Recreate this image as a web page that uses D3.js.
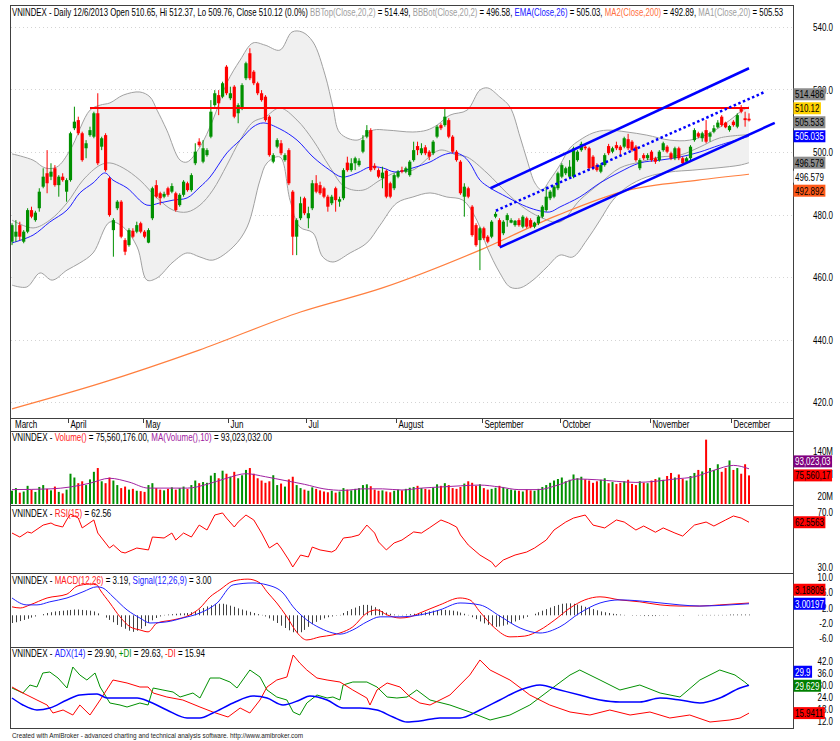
<!DOCTYPE html>
<html>
<head>
<meta charset="utf-8">
<script src="https://cdn.jsdelivr.net/npm/d3@7"></script>
<style>
body{margin:0;background:#fff}
svg{display:block}
text{font-family:"Liberation Sans",Arial,sans-serif;white-space:pre}
</style>
</head>
<body>
<svg></svg>
<script>
var w = 840
var h = 741

// daily bars, 11 Mar 2013 - 6 Dec 2013
var openP = [471.3,472.9,476.6,471.3,474.5,481.4,478.2,482.0,488.9,493.2,
492.1,494.8,489.4,492.1,487.3,491.0,507.6,510.2,506.0,501.2,
505.4,504.9,512.4,501.7,505.4,491.6,475.0,482.0,484.1,471.8,
470.2,474.8,474.5,477.2,474.5,471.0,478.8,489.4,486.8,485.7,
488.4,487.3,486.8,483.0,486.3,490.0,487.8,496.4,503.3,496.9,
499.0,504.9,515.0,518.2,517.7,527.3,517.2,520.9,512.4,514.0,
523.6,531.6,525.7,522.0,518.8,517.7,511.3,496.9,501.7,502.8,
497.4,500.6,487.3,472.9,478.8,485.2,478.8,482.0,490.0,489.4,
488.4,485.7,483.6,488.4,484.1,485.2,496.6,494.2,496.4,495.8,
500.1,504.9,507.0,495.6,494.2,491.6,494.0,490.0,488.4,492.1,
494.2,493.7,492.6,497.4,501.9,499.6,501.5,500.1,499.6,504.9,
508.6,508.6,510.2,504.9,500.1,496.9,485.7,488.4,482.5,476.6,
471.8,475.6,472.9,472.9,479.3,478.2,474.0,478.2,477.4,476.6,
478.2,476.1,478.8,478.2,476.1,477.2,479.3,481.4,485.2,485.7,
488.4,492.1,493.2,492.1,492.1,497.4,500.6,501.7,501.2,498.5,
495.8,493.7,495.8,501.9,500.1,502.2,501.7,501.7,504.1,503.3,
501.7,494.8,499.0,498.0,500.1,498.0,497.4,500.6,501.7,499.6,
498.0,501.2,498.0,496.9,498.0,503.8,506.0,504.4,507.0,504.9,
506.5,507.9,511.3,509.4,507.0,509.7,508.1,514.0,510.8,510.65]
var highP = [477.2,478.2,477.7,475.0,482.0,482.5,481.2,488.4,494.8,500.6,
496.4,495.8,492.6,493.2,491.6,506.5,514.5,511.3,506.5,503.8,
508.1,512.9,518.8,504.9,506.0,492.1,478.8,484.6,484.6,472.4,
475.6,475.6,477.7,477.7,475.0,475.6,488.9,491.0,487.3,487.3,
488.9,490.0,487.3,486.8,491.0,490.5,493.2,502.8,504.4,503.8,
501.2,516.6,519.8,519.8,522.5,527.8,520.9,521.4,515.6,522.0,
528.9,533.2,526.2,522.5,519.8,518.2,511.8,499.6,504.4,503.8,
499.6,501.2,487.8,478.8,485.7,485.7,482.5,491.0,492.6,490.5,
488.9,486.3,486.3,488.9,485.7,494.8,498.5,498.0,498.5,498.0,
505.4,508.6,507.6,496.4,494.8,495.3,494.4,490.5,493.2,494.2,
495.3,495.3,497.4,503.3,503.3,502.8,502.2,500.6,503.8,508.6,
509.2,514.0,510.8,505.4,500.6,497.4,490.0,488.9,483.0,477.2,
476.1,476.1,473.4,478.2,480.9,478.8,478.2,480.4,478.8,478.2,
478.8,479.8,479.3,478.8,477.7,479.8,483.0,488.9,487.8,489.4,
493.7,496.4,495.3,497.4,501.7,500.6,503.3,502.2,501.7,499.0,
496.4,496.4,499.6,502.6,501.7,503.3,502.2,504.9,505.8,503.8,
502.2,498.0,499.6,499.6,500.6,498.5,500.6,503.3,502.2,500.1,
501.7,501.7,498.5,498.5,502.2,507.6,506.5,506.5,510.2,506.5,
508.6,510.2,511.8,509.7,508.6,510.2,512.4,515.0,512.9,512.37]
var lowP = [470.2,471.3,471.8,470.8,474.0,478.8,477.7,480.9,488.4,486.8,
491.0,488.9,485.7,490.5,484.1,490.5,507.0,505.4,496.9,498.0,
504.9,504.4,495.8,500.6,493.7,479.3,466.5,481.4,472.4,467.0,
469.7,472.4,474.0,474.0,472.4,470.8,478.2,485.2,483.0,485.2,
485.7,486.8,480.9,482.5,485.7,487.3,487.3,495.8,501.7,496.4,
498.5,504.4,514.5,511.8,517.2,518.2,516.6,510.8,509.2,513.4,
523.0,523.0,521.4,518.2,516.1,509.7,498.5,496.4,501.2,499.0,
496.9,489.4,467.0,467.0,478.2,479.8,475.6,481.4,486.8,486.3,
485.2,480.9,483.0,480.9,482.5,484.6,493.7,493.7,494.2,495.3,
499.6,504.4,493.7,494.2,491.6,488.4,485.2,485.2,487.8,491.6,
493.2,493.2,492.1,496.9,499.0,499.0,499.0,497.4,499.0,504.4,
507.0,508.1,504.4,499.6,496.9,486.3,479.3,485.2,472.9,469.7,
462.2,471.8,470.8,472.4,478.8,469.7,473.4,476.1,477.2,476.1,
476.1,475.6,475.6,475.6,475.6,476.6,478.8,480.9,484.6,485.2,
487.8,491.6,492.6,491.6,491.6,496.9,500.1,500.6,494.2,494.2,
493.7,493.2,495.3,499.0,499.6,500.6,499.0,501.2,500.6,500.1,
496.9,494.2,497.4,497.4,496.9,496.2,496.9,500.1,499.6,497.4,
497.4,497.4,495.8,496.4,497.4,503.3,504.4,503.3,502.8,503.3,
506.0,507.6,508.1,507.6,506.5,508.1,507.6,512.4,508.1,509.76]
var closeP = [476.6,474.5,472.9,474.5,481.4,479.3,480.6,487.3,492.1,490.0,
493.7,489.4,492.1,491.0,491.0,506.0,509.7,506.0,497.4,502.8,
507.0,512.4,496.4,504.4,494.2,479.8,478.2,484.1,472.9,468.1,
475.0,472.9,476.6,474.5,472.9,475.0,488.4,485.7,485.2,486.6,
486.3,489.1,481.4,486.3,490.5,487.8,492.6,500.1,502.2,501.2,
500.6,512.9,518.8,515.6,522.0,518.8,518.8,511.3,515.0,521.4,
528.4,523.6,522.0,518.8,516.6,510.2,499.0,499.0,503.8,499.6,
499.0,490.0,472.9,478.2,483.6,480.4,480.4,490.0,487.3,486.8,
485.7,482.5,485.7,484.6,484.9,494.2,494.2,496.4,498.0,497.2,
503.8,507.0,494.2,494.8,492.1,493.4,485.7,485.7,492.6,493.7,
493.7,494.8,496.9,500.6,500.6,501.2,499.6,498.5,503.3,508.1,
507.6,511.3,504.9,500.1,497.4,486.8,488.9,485.7,473.4,470.2,
475.6,472.4,471.3,477.7,480.2,469.9,477.7,479.8,478.2,478.0,
476.6,479.3,476.1,476.1,477.4,479.3,482.5,485.7,487.3,488.9,
493.2,495.8,494.8,495.3,501.2,500.1,502.6,501.2,494.8,494.8,
494.2,495.8,499.0,499.6,501.2,501.2,500.6,504.4,501.2,500.6,
497.4,497.4,498.0,499.0,497.4,496.9,500.1,502.8,500.1,498.0,
501.2,498.0,496.4,498.0,501.7,507.0,504.9,506.0,503.3,506.0,
507.6,509.4,508.6,507.9,508.3,508.6,511.8,512.9,510.2,510.12]
// volume in millions
var volM = [35,42,30,33,48,38,32,45,50,40,
36,46,32,28,38,80,70,55,60,50,
65,85,95,60,55,70,62,50,42,46,
38,40,35,34,32,50,55,42,38,36,
40,44,38,42,46,40,50,62,55,58,
56,75,82,68,88,80,72,85,68,76,
90,95,80,68,62,56,60,76,50,54,
46,65,72,50,42,38,35,44,40,36,
33,31,35,30,33,42,38,36,40,42,
50,52,47,38,35,36,33,31,35,38,
36,40,43,45,48,42,40,38,43,52,
48,55,50,42,40,45,54,60,56,48,
52,42,38,40,43,48,45,40,38,36,
35,33,38,36,35,40,45,50,56,62,
66,70,60,64,78,68,72,65,62,56,
60,64,68,55,58,53,56,60,64,53,
50,60,56,55,62,66,70,64,74,82,
70,78,66,62,74,82,90,86,170,95,
90,105,85,95,115,90,95,80,105,75.56]
var volMaIdx = [0,10,15,20,25,30,35,40,45,50,55,60,65,70,75,80,85,90,95,100,105,110,115,120,125,130,135,140,145,150,155,160,165,170,175,180,185,189]
var volMaVal = [38,40,45,55,68,58,42,42,42,52,68,80,72,62,52,40,36,40,40,37,42,45,48,50,45,38,38,50,66,64,60,57,60,66,72,89,102,93.02]

// overlays (bar index, value)
var bbTopIdx = [0,5.4,8.5,11.5,14.9,20,22.6,25.1,28.5,32.8,35.4,37.2,39.7,43.1,44.9,48.2,51.5,55.1,58.5,61.8,64.9,68.7,71.8,74.4,77.2,80.3,82.3,84.1,88.5,92.6,96.2,102.8,106.4,109,112.3,116.7,120,122,125.1,127.7,130.3,132.1,134.1,135.9,137.9,140.5,143.1,145.6,149,152.6,157.7,162.8,168.7,173.8,179,184.1,186.7,189]
var bbTopVal = [499.4,497.4,494.9,495.2,500.6,513.4,515.0,515.7,518.2,519.2,517.6,513.4,507.0,497.4,496.8,501.6,510.2,522.1,529.4,534.9,534.2,532.6,538.4,538.4,535.2,524.6,514.4,506.1,503.8,507.0,507.0,506.4,507.0,508.6,511.8,513.4,519.8,520.5,517.6,514.4,504.8,497.4,490.1,487.8,491.0,495.8,501.3,503.8,506.1,507.0,506.4,505.4,503.8,503.8,506.1,510.2,512.8,514.49]
var bbBotIdx = [0,3.8,7.2,10.3,14.1,17.4,20.8,25.1,28.5,32.1,34.6,37.2,41.3,44.9,48.2,51.5,56.7,60.3,63.6,65.4,68.7,71.3,73.8,77.2,79.7,82.3,86.7,91,94.4,98.7,102.8,107.2,111.5,115.6,119.2,121.8,125.1,127.7,130.3,133.6,137.2,140.5,143.8,147.4,150.8,154.1,157.7,162.8,168.7,174.6,180.8,186.7,189]
var bbBotVal = [457.4,456.8,461.3,459.0,462.2,464.5,467.7,477.6,476.0,469.6,459.0,459.7,464.8,467.7,466.4,465.4,469.6,476.0,491.0,496.5,498.4,484.6,476.0,474.1,466.4,464.8,467.7,470.9,476.6,483.7,485.6,486.9,485.6,484.6,478.2,469.6,461.3,456.8,456.5,459.0,463.2,467.0,466.4,471.8,478.2,484.6,488.8,492.0,493.6,494.2,494.9,495.8,496.58]
var ma20Idx = [0,5.4,9.7,14.1,18.2,22.6,25.1,28.5,32.8,37.2,41.3,44.9,48.2,51.5,55.1,58.5,61.8,64.9,68.7,73.1,77.2,81.5,85.4,90,94.4,98.7,102.8,109.7,114.1,116.7,121.8,126.9,131,135.4,140.5,145.6,150.8,155.9,161,166.2,171.3,176.4,181.5,189]
var ma20Val = [478.2,475.7,478.2,483.7,491.0,495.8,496.5,494.9,491.0,485.3,481.4,480.8,483.0,487.8,495.8,503.8,509.6,511.2,514.1,510.2,503.8,495.2,488.8,487.8,491.0,493.6,494.2,500.6,499.0,498.4,493.3,486.9,482.4,479.2,477.6,484.6,490.0,494.9,496.8,498.4,499.0,501.6,504.5,505.53]
var emaIdx = [0,5.4,9.7,14.1,17.4,20.8,23.8,25.9,29.5,34.6,37.9,41.3,44.9,48.2,50.8,55.1,58.5,61.8,64.4,68.7,73.1,77.2,81.5,84.6,88.5,91.8,95.1,98.2,102.8,107.2,110.5,113.1,115.4,117.4,120,122.6,126.9,131,134.6,137.9,140.5,145.6,150.8,155.9,161,166.2,171.3,176.4,181.5,189]
var emaVal = [470.9,473.4,477.6,481.4,486.9,490.1,493.3,491.0,488.5,483.0,483.7,484.6,485.3,488.8,492.0,499.7,503.8,508.0,509.3,507.4,503.8,498.4,494.2,492.0,493.3,495.2,494.9,493.6,494.9,496.8,499.0,499.7,499.0,496.5,491.0,488.5,485.6,483.0,481.4,480.8,482.4,485.6,490.1,493.6,496.5,497.4,498.4,500.0,502.2,505.03]
var ma200Idx = [0,23,48,74,95,120,140,158,176,189]
var ma200Val = [417.8,426.1,436.6,448.8,456.5,468.6,479.8,487.8,491.0,492.89]

// hand drawn studies
var resistance = [[20,514.1],[189,514.1]]
var channelTop = [[122.7,488.4],[189,526.8]]
var channelMid = [[124.1,481.2],[193,519.2]]
var channelLow = [[125.1,469.5],[195.6,509.3]]

// oscillators
var rsiIdx = [0,2,4,5,8,10,11,13,14,15,17,18,21,22,25,26,28,29,32,35,36,39,41,42,44,46,48,50,52,54,55,57,58,60,62,64,66,68,69,71,72,74,76,77,79,82,83,85,87,89,91,93,94,96,98,100,103,105,107,110,112,114,115,117,120,123,124,126,129,132,134,137,139,142,144,147,149,152,155,157,160,162,165,167,170,172,175,178,180,183,185,187,189]
var rsiVal = [54.7,51.8,55.5,54.7,60.5,62.0,60.5,59.1,64.2,68.5,65.6,58.4,64.2,54.7,43.8,46.0,40.9,40.2,43.8,42.4,51.8,51.1,54.7,49.6,54.7,51.8,60.5,56.9,67.8,69.3,65.6,59.1,62.7,67.8,64.2,54.7,43.8,47.5,43.8,35.1,30.0,38.7,37.3,44.5,42.4,40.9,42.4,51.1,51.8,53.3,60.5,54.7,48.2,42.4,47.5,49.6,55.5,54.7,58.4,64.2,62.0,59.1,53.3,46.0,38.7,33.6,30.0,35.1,38.7,40.9,43.8,49.6,56.9,62.7,65.6,67.8,60.5,58.4,64.2,62.7,56.9,59.8,55.3,58.4,54.7,52.5,60.5,62.7,59.8,64.2,67.1,65.6,62.56]
var macdIdx = [0,2.1,4.6,9,14.1,16.7,20,21.8,22.6,25.1,27.7,30.3,32.8,34.9,37.2,41.3,45.6,48.2,50.8,53.3,56.7,60.5,63.6,65.4,67.9,70.5,73.1,75.6,79,82.3,84.1,87.4,91,93.6,96.2,99.5,102.1,104.6,109.7,114.9,117.4,120,123.8,127.7,131.5,135.4,139.2,143.1,146.9,150.8,155.9,161,166.2,171.3,176.4,181.5,189]
var macdVal = [2.2,1.9,2.7,4.5,5.5,7.6,8.1,7.9,6.6,3.2,-0.4,-3.0,-3.8,-4.3,-2.0,-1.2,0.1,1.9,4.8,6.6,8.9,9.4,8.4,6.1,3.2,-0.4,-4.5,-6.4,-5.6,-5.1,-4.6,-3.0,0.6,1.4,0.1,-0.7,-0.4,0.6,2.7,4.5,4.0,0.9,-3.3,-5.6,-5.4,-3.8,-1.2,1.9,4.0,4.8,4.0,3.5,2.7,2.4,2.4,2.7,3.19]
var signalIdx = [0,3.8,6.4,9.7,14.1,18.2,21.8,23.3,25.9,29.5,32.8,35.4,39.7,43.8,48.2,52.6,56.7,61.8,65.4,69.5,72.1,75.6,79,82.3,84.1,87.4,91,94.4,99.5,104.6,109.7,114.9,120,125.1,130.3,135.4,140.5,145.6,150.8,155.9,163.6,171.3,176.4,184.1,189]
var signalVal = [4.5,2.7,2.7,3.5,4.5,6.1,7.4,7.1,4.8,1.4,-0.7,-2.0,-1.7,-0.7,0.6,3.2,7.9,8.4,7.9,5.8,2.2,-1.2,-3.3,-4.6,-4.9,-3.8,-1.7,-0.4,-0.4,0.1,1.4,3.2,2.7,-0.2,-3.3,-4.6,-3.0,0.6,3.2,4.0,3.5,2.7,2.4,2.7,3.0]
var histVal = [-2.0,-1.8,-1.5,-1.2,-0.9,-0.6,-0.3,0,0.3,0.6,
0.8,1.0,1.1,1.2,1.3,1.4,1.5,1.5,1.4,1.3,
1.2,1.0,0.5,0.0,-0.6,-1.2,-1.8,-2.5,-3.0,-3.5,
-4.0,-4.3,-4.0,-3.5,-2.8,-2.0,-1.3,-0.7,-0.3,0.1,
0.2,0.3,0.4,0.5,0.5,0.6,0.8,1.1,1.5,1.9,
2.3,2.6,2.9,3.0,3.0,2.8,2.5,2.2,1.8,1.5,
1.2,0.9,0.6,0.3,0.1,-0.3,-0.8,-1.4,-2.0,-2.7,
-3.3,-3.9,-4.4,-4.6,-4.4,-3.8,-3.0,-2.3,-1.7,-1.2,
-0.8,-0.5,-0.3,-0.1,0.1,0.6,1.1,1.6,2.0,2.4,
2.7,2.7,2.5,2.1,1.6,1.1,0.7,0.4,0.2,0.1,
0.1,0.2,0.3,0.4,0.5,0.6,0.8,1.0,1.2,1.3,
1.4,1.4,1.3,1.2,1.0,0.7,0.4,0.1,-0.5,-1.0,
-1.6,-2.1,-2.5,-2.8,-3.0,-2.9,-2.7,-2.4,-2.0,-1.6,
-1.2,-0.8,-0.4,0.0,0.4,0.8,1.2,1.6,2.0,2.4,
2.7,3.0,3.1,3.1,3.0,2.8,2.5,2.2,1.9,1.6,
1.3,1.0,0.8,0.6,0.4,0.3,0.2,0.1,0.0,-0.1,
-0.1,-0.1,-0.2,-0.2,-0.2,-0.2,-0.1,-0.1,-0.1,0,
0,-0.1,-0.1,0,0,0,0.1,0.1,0.1,0.1,
0.1,0.1,0.1,0.1,0.2,0.2,0.2,0.2,0.2,0.19]
var adxIdx = [0,2.8,6.4,9.7,14.1,17.4,21.8,24.4,27.7,32.1,35.4,39.7,44.9,48.2,51.5,56.7,61.8,65.4,69.5,73.8,76.4,80.8,84.9,89.2,93.6,97.7,101.3,104.6,109.7,114.9,120,125.1,130.3,135.4,140.5,145.6,150.8,155.9,161,166.2,171.3,176.4,181.5,186.7,189]
var adxVal = [23.5,20.0,17.5,18.5,22.5,25.0,25.5,23.5,23.5,23.5,21.5,17.5,13.5,13.5,16.0,21.0,24.5,23.5,20.0,22.5,24.5,22.5,18.5,18.5,17.5,14.0,11.5,12.0,13.5,13.5,17.5,22.5,27.5,30.0,27.5,25.0,22.5,21.5,21.5,23.5,22.5,21.0,23.5,28.5,29.9]
var pdiIdx = [0,2.8,4.6,6.4,7.9,9.7,11.8,14.1,15.6,17.4,19.2,21.3,22.6,25.1,27.7,29.5,32.8,34.9,36.2,38.7,41.3,43.1,46.4,48.2,50.8,53.3,55.9,57.7,61,63.6,65.4,67.9,70.5,72.1,73.8,75.6,78.2,80.8,82.3,84.1,84.9,87.4,91,93.6,96.2,98.7,101.3,103.8,107.2,112.3,117.4,122.6,127.7,132.8,137.9,143.1,145.6,150.8,155.9,161,166.2,171.3,176.4,181.5,185.4,187.9,189]
var pdiVal = [28.5,26.0,30.0,29.0,36.0,36.5,33.5,28.5,39.0,35.0,32.5,36.0,29.0,21.0,20.0,19.0,21.0,20.0,28.5,27.5,26.5,24.0,26.0,23.5,33.5,33.5,31.5,28.5,37.5,34.0,27.5,24.0,22.5,16.5,15.0,21.0,25.0,23.5,24.0,22.5,30.0,31.5,31.5,29.0,24.0,23.5,24.0,27.5,22.5,20.0,16.5,12.5,15.0,20.0,27.5,35.0,37.5,32.5,27.5,30.0,26.0,24.0,32.5,37.5,35.0,31.5,29.63]
var mdiIdx = [0,2.8,6.4,9,10.5,13.1,15.6,17.4,20,22.6,25.9,29.5,32.8,34.9,36.2,39.7,43.8,48.2,51.5,55.4,58.5,61,63.6,65.4,67.9,70.5,72.1,73.8,75.6,78.2,80.8,84.1,87.4,91,91.8,93.6,96.2,99.5,102.1,104.6,107.2,112.3,117.4,120,122.6,127.7,132.8,137.9,143.1,148.2,153.3,158.5,163.6,168.7,173.8,179,184.1,186.7,189]
var mdiVal = [29.0,26.0,22.5,20.0,16.0,17.5,15.0,20.0,15.0,22.5,32.5,31.0,29.0,29.0,26.0,24.0,22.5,19.0,16.5,14.0,18.5,16.0,22.5,29.0,32.5,34.0,45.0,41.0,37.5,33.5,32.5,31.5,27.5,23.5,20.0,27.5,31.0,29.0,24.0,21.0,20.0,25.0,35.0,42.5,37.5,32.5,25.0,20.0,16.5,15.0,17.5,15.0,16.5,13.5,15.0,11.5,12.5,13.5,15.94]

// axis labels
var monthNames = ["March","April","May","Jun","Jul","August","September","October","November","December"]
var monthStart = [0,15,34,56,76,99,121,141,164,185]
var priceTicks = [540,520,500,480,460,440,420]
var volTicks = [140,80,20]
var rsiTicks = [70,30]
var macdTicks = [10,6,2,-2,-6]
var adxTicks = [42,36,30,24,18,12]

var upColor = "#009000"
var downColor = "#ff0000"

var svg = d3.select("svg")
	.attr("width",w)
	.attr("height",h)
	.style("background-color","white")

var x = d3.scaleLinear().domain([0,189]).range([12,749])
var yP = d3.scaleLinear().domain([420,540]).range([402,27])
var yV = d3.scaleLinear().domain([0,140]).range([504,451])
var yR = d3.scaleLinear().domain([30,70]).range([567,512])
var yM = d3.scaleLinear().domain([-6,10]).range([638.4,576.8])
var yA = d3.scaleLinear().domain([12,42]).range([721,661])

var panels = [
	{id:"clipMain", top:5, bottom:418},
	{id:"clipVol", top:431, bottom:505},
	{id:"clipRsi", top:505, bottom:573},
	{id:"clipMacd", top:573, bottom:647},
	{id:"clipAdx", top:647, bottom:728}]

var defs = svg.append("defs")
panels.forEach(function(p){
	defs.append("clipPath").attr("id",p.id)
		.append("rect").attr("x",10.5).attr("y",p.top+0.5)
		.attr("width",782).attr("height",p.bottom-p.top-1)
})

function pts(idx, val){
	return idx.map(function(d,i){ return [d, val[i]] })
}

function drawLine(g, data, yS, color, width, curve){
	var lineMaker = d3.line()
		.x(function(d){ return x(d[0]) })
		.y(function(d){ return yS(d[1]) })
		.curve(curve || d3.curveLinear)
	return g.append("path")
		.attr("d", lineMaker(data))
		.attr("fill","none")
		.attr("stroke",color)
		.attr("stroke-width",width)
}

// narrow text like the AmiBroker screen font
function say(g, x0, y0, parts, size, anchor, sx){
	var t = g.append("text")
		.attr("transform","translate("+x0+","+y0+") scale("+(sx || 0.8)+",1)")
		.attr("font-size", size || 10)
		.attr("text-anchor", anchor || "start")
	parts.forEach(function(p){
		t.append("tspan").attr("fill",p[1]).text(p[0])
	})
	return t
}

function axisLabels(yS, ticks, fmt){
	ticks.forEach(function(v){
		say(svg, 833, yS(v)+4, [[fmt(v),"#000"]], 10, "end")
	})
}

// value tags on the right edge, pushed apart like AmiBroker does
function tags(list, yS, pivot){
	var up = list.filter(function(t){ return pivot == null || t.v >= pivot })
		.sort(function(a,b){ return a.v-b.v })
	var down = list.filter(function(t){ return pivot != null && t.v < pivot })
		.sort(function(a,b){ return b.v-a.v })
	var prev = null
	up.forEach(function(t){
		t.y = yS(t.v)
		if(prev != null && t.y > prev-14) t.y = prev-14
		prev = t.y
	})
	prev = null
	down.forEach(function(t){
		t.y = yS(t.v)
		if(prev != null && t.y < prev+14) t.y = prev+14
		prev = t.y
	})
	list.forEach(function(t){
		var g = svg.append("g")
		var r = g.append("rect")
		var tx = say(g, 795, t.y+4, [[t.text, t.fg]], 10)
		var len = tx.node().getComputedTextLength()*0.8
		r.attr("x",793.5).attr("y",t.y-6).attr("width",len+3).attr("height",12).attr("fill",t.bg)
	})
}

// ---------- price panel ----------
var main = svg.append("g").attr("clip-path","url(#clipMain)")

priceTicks.forEach(function(v){
	main.append("line")
		.attr("x1",11).attr("x2",792)
		.attr("y1",Math.round(yP(v))+0.5).attr("y2",Math.round(yP(v))+0.5)
		.attr("stroke","#d4d4d4").attr("stroke-dasharray","1,3")
})

var bandMaker = d3.line()
	.x(function(d){ return x(d[0]) })
	.y(function(d){ return yP(d[1]) })
	.curve(d3.curveCatmullRom.alpha(0.5))
var topD = bandMaker(pts(bbTopIdx,bbTopVal))
var botD = bandMaker(pts(bbBotIdx,bbBotVal).reverse())
main.append("path").attr("d", topD + "L" + botD.slice(1) + "Z").attr("fill","#f0f0f0")

var smooth = d3.curveCatmullRom.alpha(0.5)
drawLine(main, pts(bbTopIdx,bbTopVal), yP, "#a0a0a0", 1, smooth)
drawLine(main, pts(bbBotIdx,bbBotVal), yP, "#a0a0a0", 1, smooth)
drawLine(main, pts(ma20Idx,ma20Val), yP, "#a0a0a0", 1, smooth)
drawLine(main, pts(ma200Idx,ma200Val), yP, "#ff7f3f", 1.2, d3.curveMonotoneX)
drawLine(main, pts(emaIdx,emaVal), yP, "#2020ff", 1, smooth)

function barColor(i){ return closeP[i] >= openP[i] ? upColor : downColor }

var candle = main.append("g").selectAll("g")
	.data(closeP)
	.join("g")
candle.append("line")
	.attr("x1",function(d,i){ return x(i) })
	.attr("x2",function(d,i){ return x(i) })
	.attr("y1",function(d,i){ return yP(highP[i]) })
	.attr("y2",function(d,i){ return yP(lowP[i]) })
	.attr("stroke",function(d,i){ return barColor(i) })
	.attr("stroke-width",1)
candle.append("rect")
	.attr("x",function(d,i){ return x(i)-1.6 })
	.attr("width",3.2)
	.attr("y",function(d,i){ return yP(Math.max(openP[i],d)) })
	.attr("height",function(d,i){ return Math.max(1, Math.abs(yP(openP[i])-yP(d))) })
	.attr("fill",function(d,i){ return barColor(i) })

drawLine(main, resistance, yP, "#ff0000", 2)
drawLine(main, channelTop, yP, "#0000ff", 2.5)
drawLine(main, channelLow, yP, "#0000ff", 2.5)
drawLine(main, channelMid, yP, "#0000ff", 2.5).attr("stroke-dasharray","2.5,2.5")

// ---------- volume ----------
var vol = svg.append("g").attr("clip-path","url(#clipVol)")
vol.selectAll("rect").data(volM).join("rect")
	.attr("x",function(d,i){ return x(i)-1 })
	.attr("width",2)
	.attr("y",function(d){ return yV(d) })
	.attr("height",function(d){ return yV(0)-yV(d) })
	.attr("fill",function(d,i){ return barColor(i) })
drawLine(vol, pts(volMaIdx,volMaVal), yV, "#a020a0", 1, d3.curveMonotoneX)

// ---------- RSI ----------
var rsi = svg.append("g").attr("clip-path","url(#clipRsi)")
drawLine(rsi, pts(rsiIdx,rsiVal), yR, "#ff0000", 1)

// ---------- MACD ----------
var macd = svg.append("g").attr("clip-path","url(#clipMacd)")
macd.selectAll("line").data(histVal).join("line")
	.attr("x1",function(d,i){ return Math.round(x(i))+0.5 })
	.attr("x2",function(d,i){ return Math.round(x(i))+0.5 })
	.attr("y1",yM(0))
	.attr("y2",function(d){ return yM(d) })
	.attr("stroke","#404040")
	.attr("stroke-width",1)
drawLine(macd, pts(macdIdx,macdVal), yM, "#ff0000", 1, d3.curveMonotoneX)
drawLine(macd, pts(signalIdx,signalVal), yM, "#2020ff", 1, d3.curveMonotoneX)

// ---------- ADX ----------
var adx = svg.append("g").attr("clip-path","url(#clipAdx)")
drawLine(adx, pts(pdiIdx,pdiVal), yA, "#009000", 1)
drawLine(adx, pts(mdiIdx,mdiVal), yA, "#ff0000", 1)
drawLine(adx, pts(adxIdx,adxVal), yA, "#0000ff", 1.5, d3.curveMonotoneX)

// ---------- frames ----------
var frame = svg.append("g").attr("stroke","#404040").attr("stroke-width",1)
var hLines = [5,418,431,505,573,647,728]
hLines.forEach(function(y0){
	frame.append("line").attr("x1",10).attr("x2",793.5).attr("y1",y0+0.5).attr("y2",y0+0.5)
})
frame.append("line").attr("x1",10.5).attr("x2",10.5).attr("y1",5).attr("y2",729)
frame.append("line").attr("x1",793.5).attr("x2",793.5).attr("y1",5).attr("y2",729)

monthStart.forEach(function(i, k){
	var mx = Math.round(x(i)-2)+0.5
	if(k > 0){
		frame.append("line").attr("x1",mx).attr("x2",mx).attr("y1",418).attr("y2",423)
	}
	say(svg, k > 0 ? mx+2 : 15, 428, [[monthNames[k],"#000"]], 10)
})

// ---------- axis labels and value tags ----------
axisLabels(yP, priceTicks, function(v){ return v.toFixed(1) })
axisLabels(yV, volTicks, function(v){ return v+"M" })
axisLabels(yR, rsiTicks, function(v){ return v.toFixed(1) })
axisLabels(yM, macdTicks, function(v){ return v.toFixed(1) })
axisLabels(yA, adxTicks, function(v){ return v.toFixed(1) })

tags([
	{v:514.486, text:"514.486", bg:"#8c8c8c", fg:"#000"},
	{v:510.12, text:"510.12", bg:"#ffd200", fg:"#000"},
	{v:505.533, text:"505.533", bg:"#8c8c8c", fg:"#000"},
	{v:505.035, text:"505.035", bg:"#0000ff", fg:"#fff"},
	{v:496.579, text:"496.579", bg:"#8c8c8c", fg:"#000"},
	{v:496.579, text:"496.579", bg:"#ffffff", fg:"#000"},
	{v:492.892, text:"492.892", bg:"#ff5a1a", fg:"#000"}], yP, 500)
tags([
	{v:93.023, text:"93,023,03", bg:"#800080", fg:"#fff"},
	{v:75.560, text:"75,560,17", bg:"#ff0000", fg:"#000"}], yV)
tags([{v:62.5563, text:"62.5563", bg:"#ff0000", fg:"#000"}], yR)
tags([
	{v:3.18809, text:"3.18809", bg:"#ff0000", fg:"#000"},
	{v:3.00197, text:"3.00197", bg:"#0000ff", fg:"#fff"}], yM)
tags([
	{v:29.9, text:"29.9", bg:"#0000ff", fg:"#fff"},
	{v:29.629, text:"29.629", bg:"#008000", fg:"#fff"},
	{v:15.9411, text:"15.9411", bg:"#ff0000", fg:"#000"}], yA)

// ---------- titles ----------
var gray = "#a0a0a0"
say(svg, 12, 16, [
	["VNINDEX - Daily 12/6/2013 Open 510.65, Hi 512.37, Lo 509.76, Close 510.12 (0.0%) ","#000"],
	["BBTop(Close,20,2)",gray],[" = 514.49, ","#000"],
	["BBBot(Close,20,2)",gray],[" = 496.58, ","#000"],
	["EMA(Close,26)","#2020ff"],[" = 505.03, ","#000"],
	["MA2(Close,200)","#ff7040"],[" = 492.89, ","#000"],
	["MA1(Close,20)",gray],[" = 505.53","#000"]], 10, "start", 0.782)
say(svg, 12, 441, [["VNINDEX - ","#000"],["Volume()","#ff2020"],[" = 75,560,176.00, ","#000"],
	["MA(Volume(),10)","#a020a0"],[" = 93,023,032.00","#000"]])
say(svg, 12, 517, [["VNINDEX - ","#000"],["RSI(15)","#ff2020"],[" = 62.56","#000"]])
say(svg, 12, 584, [["VNINDEX - ","#000"],["MACD(12,26)","#ff2020"],[" = 3.19, ","#000"],
	["Signal(12,26,9)","#2020ff"],[" = 3.00","#000"]])
say(svg, 12, 657, [["VNINDEX - ","#000"],["ADX(14)","#2020ff"],[" = 29.90, ","#000"],
	["+DI","#009000"],[" = 29.63, ","#000"],["-DI","#ff2020"],[" = 15.94","#000"]])

svg.append("text")
	.attr("x",12).attr("y",738)
	.attr("font-size",8)
	.attr("textLength",291).attr("lengthAdjust","spacingAndGlyphs")
	.attr("fill","#222")
	.text("Created with AmiBroker - advanced charting and technical analysis software. http://www.amibroker.com")
</script>
</body>
</html>
